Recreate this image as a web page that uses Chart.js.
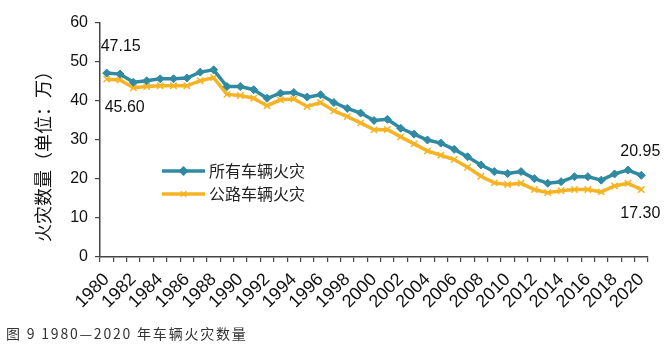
<!DOCTYPE html>
<html>
<head>
<meta charset="utf-8">
<script src="https://cdn.jsdelivr.net/npm/chart.js@4"></script>
<style>
    html, body { margin: 0; padding: 0; background: #fff; }
    #wrap { width: 670px; height: 349px; }
</style>
</head>
<body>
<div id="wrap"><canvas id="fires" width="670" height="349"></canvas></div>
<script>
// anni 1980-2020
const years = [
    "1980", "1981", "1982", "1983", "1984", "1985", "1986", "1987", "1988", "1989",
    "1990", "1991", "1992", "1993", "1994", "1995", "1996", "1997", "1998", "1999",
    "2000", "2001", "2002", "2003", "2004", "2005", "2006", "2007", "2008", "2009",
    "2010", "2011", "2012", "2013", "2014", "2015", "2016", "2017", "2018", "2019",
    "2020",
]
// 所有车辆火灾 (万)
const allVehicle = [
    47.15, 46.9, 44.8, 45.2, 45.7, 45.7, 45.9, 47.4, 48.0, 43.7,
    43.7, 42.9, 40.7, 42.0, 42.2, 41.0, 41.6, 39.6, 38.1, 36.9,
    35.0, 35.3, 33.0, 31.5, 30.0, 29.2, 27.6, 25.7, 23.6, 21.9,
    21.4, 21.9, 20.1, 18.9, 19.3, 20.6, 20.6, 19.7, 21.3, 22.3,
    20.95,
]
// 公路车辆火灾 (万)
const highwayVehicle = [
    45.6, 45.4, 43.4, 43.7, 43.9, 43.9, 43.9, 45.2, 46.0, 41.7,
    41.4, 40.7, 38.8, 40.3, 40.5, 38.6, 39.6, 37.5, 36.0, 34.4,
    32.6, 32.7, 30.8, 29.0, 27.2, 26.1, 25.0, 23.0, 20.7, 19.0,
    18.6, 18.9, 17.3, 16.5, 17.0, 17.3, 17.3, 16.7, 18.2, 18.9,
    17.3,
]
const seriesNames = ["所有车辆火灾", "公路车辆火灾"]
const yTicks = [0, 10, 20, 30, 40, 50, 60]
const yTitle = "火灾数量（单位：万）"

const BLUE = "#2f8aa2"
const ORANGE = "#f6b324"
const LATIN = "'Liberation Sans', Arial, sans-serif"
const CJK = "'Noto Sans CJK SC', sans-serif"

// etichette, legenda, titolo asse e didascalia disegnati a mano
const extras = {
    id: "extras",
    afterDatasetsDraw(chart) {
        const ctx = chart.ctx
        const m0 = chart.getDatasetMeta(0).data
        const m1 = chart.getDatasetMeta(1).data
        const last = years.length - 1
        ctx.save()
        ctx.fillStyle = "#111"
        ctx.font = "16px " + LATIN
        ctx.textBaseline = "middle"
        ctx.textAlign = "left"
        ctx.fillText(allVehicle[0].toFixed(2), m0[0].x - 6, m0[0].y - 27)
        ctx.fillText(highwayVehicle[0].toFixed(2), m1[0].x - 2, m1[0].y + 28)
        ctx.textAlign = "right"
        ctx.fillText(allVehicle[last].toFixed(2), m0[last].x + 19, m0[last].y - 24)
        ctx.fillText(highwayVehicle[last].toFixed(2), m1[last].x + 19, m1[last].y + 24)

        // legenda
        const colors = [BLUE, ORANGE]
        const styles = ["rectRot", "crossRot"]
        const rows = [171, 194]
        for (let i = 0; i < 2; i++) {
            const y = rows[i]
            ctx.strokeStyle = colors[i]
            ctx.lineWidth = 3.5
            ctx.beginPath()
            ctx.moveTo(162, y)
            ctx.lineTo(205, y)
            ctx.stroke()
            ctx.fillStyle = colors[i]
            ctx.lineWidth = 1.5
            Chart.helpers.drawPoint(ctx, { pointStyle: styles[i], radius: 4, borderWidth: 1.5 }, 183.5, y)
            ctx.fillStyle = "#222"
            ctx.font = "16px " + CJK
            ctx.textAlign = "left"
            ctx.fillText(seriesNames[i], 209, y)
        }

        // titolo asse y, un po' sotto il centro come nell'originale
        ctx.save()
        ctx.translate(43, 152)
        ctx.rotate(-Math.PI / 2)
        ctx.fillStyle = "#111"
        ctx.font = "18px " + CJK
        ctx.textAlign = "center"
        ctx.fillText(yTitle, 0, 0)
        ctx.restore()

        // didascalia
        ctx.fillStyle = "#333"
        ctx.font = "14px " + CJK
        ctx.letterSpacing = "1.8px"
        ctx.textAlign = "left"
        ctx.fillText("图 9 1980—2020 年车辆火灾数量", 6, 334)
        ctx.restore()
    },
}

function main() {
    new Chart(document.getElementById("fires"), {
        type: "line",
        data: {
            labels: years,
            datasets: [
                {
                    label: seriesNames[0],
                    data: allVehicle,
                    borderColor: BLUE,
                    backgroundColor: BLUE,
                    borderWidth: 3.5,
                    pointStyle: "rectRot",
                    pointRadius: 4,
                    pointBorderWidth: 1,
                    tension: 0,
                },
                {
                    label: seriesNames[1],
                    data: highwayVehicle,
                    borderColor: ORANGE,
                    backgroundColor: ORANGE,
                    borderWidth: 3.5,
                    pointStyle: "crossRot",
                    pointRadius: 4.5,
                    pointBorderWidth: 1.5,
                    tension: 0,
                },
            ],
        },
        options: {
            responsive: false,
            animation: false,
            events: [],
            layout: { padding: { top: 23, right: 22, left: 0, bottom: 0 } },
            scales: {
                x: {
                    type: "category",
                    offset: true,
                    grid: {
                        offset: true,
                        drawOnChartArea: false,
                        tickLength: 5,
                        color: "#444",
                        lineWidth: 1.2,
                    },
                    border: { color: "#444", width: 1.5 },
                    ticks: {
                        autoSkip: false,
                        maxRotation: 45,
                        minRotation: 45,
                        padding: 7,
                        color: "#111",
                        font: { family: LATIN, size: 18 },
                        callback: (v, i) => (i % 2 === 0 ? years[i] : ""),
                    },
                    afterFit: (s) => { s.height = 92 },
                },
                y: {
                    min: 0,
                    max: 60,
                    afterBuildTicks: (s) => { s.ticks = yTicks.map((v) => ({ value: v })) },
                    grid: {
                        drawOnChartArea: false,
                        tickLength: 5,
                        color: "#444",
                        lineWidth: 1.2,
                    },
                    border: { color: "#444", width: 1.5 },
                    ticks: {
                        padding: 7,
                        color: "#111",
                        font: { family: LATIN, size: 16 },
                    },
                    afterFit: (s) => { s.width = 100 },
                },
            },
            plugins: {
                legend: { display: false },
                tooltip: { enabled: false },
            },
        },
        plugins: [extras],
    })
}

document.addEventListener("DOMContentLoaded", main)
</script>
</body>
</html>
